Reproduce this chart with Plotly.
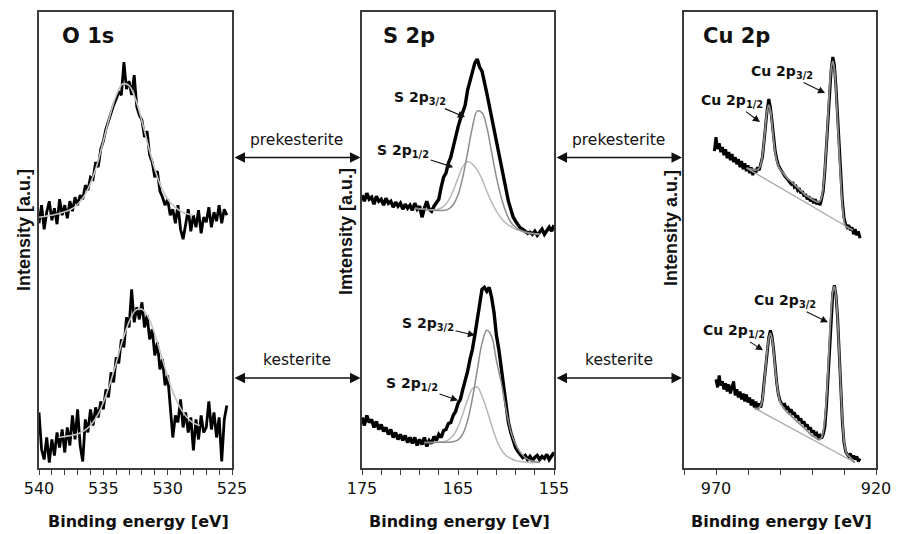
import numpy as np
import plotly.graph_objects as go

# ---------------- O 1s (binding energy grid start / step, intensities a.u.) ----------------
o1s_E0, o1s_dE = 540.0, 0.2
o1s_prekesterite = [244, 262, 238, 255, 266, 247, 259, 243, 268, 252,
                    262, 249, 266, 256, 270, 262, 272, 268, 282, 277,
                    290, 288, 305, 300, 318, 326, 338, 346, 355, 362,
                    368, 375, 372, 405, 378, 386, 372, 392, 360, 352,
                    347, 330, 336, 312, 305, 290, 296, 276, 270, 262,
                    268, 252, 258, 244, 262, 238, 228, 243, 258, 236,
                    252, 240, 257, 234, 250, 245, 260, 240, 255, 246,
                    262, 244, 258, 252]
o1s_kesterite = [55, 18, 8, 30, 5, 28, 12, 35, 20, 38,
                 15, 40, 22, 52, 28, 58, 22, 6, 48, 35,
                 58, 42, 60, 50, 66, 58, 78, 70, 95, 85,
                 110, 104, 128, 120, 150, 140, 178, 145, 160, 148,
                 165, 140, 152, 128, 138, 112, 125, 98, 108, 82,
                 92, 62, 30, 52, 45, 68, 40, 55, 35, 50,
                 17, 48, 28, 52, 35, 40, 66, 38, 55, 30,
                 50, 6, 48, 62]
o1s_fit_pre_E = [540, 539.5, 539, 538.5, 538, 537.5, 537, 536.5, 536, 535.5, 535, 534.5, 534,
                 533.5, 533, 532.5, 532, 531.5, 531, 530.5, 530, 529.5, 529, 528.5, 528]
o1s_fit_pre = [250, 251, 252, 253.5, 255.5, 258, 263, 271, 284, 302, 326, 351, 371.5,
               383, 381.5, 368, 346, 321, 298, 280, 268, 261, 256, 253.5, 252]
o1s_fit_kes_E = [538.5, 538, 537.5, 537, 536.5, 536, 535.5, 535, 534.5, 534, 533.5, 533,
                 532.5, 532, 531.5, 531, 530.5, 530, 529.5, 529, 528.5, 528, 527.5]
o1s_fit_kes = [30, 31, 32, 33.5, 36.7, 42, 51, 65, 83, 104.5, 127, 145.5,
               157, 158, 150, 133, 112, 91, 72.5, 59, 50, 44.5, 42]

# ---------------- S 2p ----------------
s2p_E0, s2p_dE = 175.0, 0.25
s2p_prekesterite = [272, 266, 274, 268, 270, 263, 271, 266, 268, 262,
                    269, 264, 266, 260, 265, 261, 264, 258, 263, 259,
                    262, 257, 264, 258, 261, 250, 259, 266, 258, 256,
                    261, 264, 268, 280, 290, 294, 304, 310, 320, 332,
                    340, 348, 356, 362, 377, 386, 396, 404, 408, 400,
                    396, 386, 374, 362, 350, 337, 326, 314, 300, 287,
                    276, 266, 258, 250, 246, 242, 239, 238, 236, 234,
                    235, 233, 236, 232, 235, 238, 233, 237, 240, 236,
                    242]
s2p_kesterite = [50, 42, 52, 45, 48, 40, 46, 38, 43, 36,
                 40, 33, 38, 30, 35, 28, 33, 27, 32, 25,
                 30, 24, 30, 22, 28, 23, 30, 21, 27, 24,
                 31, 27, 33, 30, 37, 38, 44, 45, 52, 56,
                 64, 68, 78, 86, 96, 108, 118, 132, 148, 165,
                 178, 180, 176, 180, 170, 155, 132, 118, 100, 82,
                 60, 45, 35, 27, 20, 16, 13, 10, 12, 8,
                 11, 7, 10, 12, 8, 11, 9, 13, 8, 12,
                 15]
s2p_fit_pre_E = [169.5, 169, 168.5, 168, 167.5, 167, 166.5, 166, 165.5, 165, 164.5, 164, 163.5,
                 163, 162.5, 162, 161.5, 161, 160.5, 160, 159.5, 159, 158.5, 158, 157.5, 157, 156.5]
s2p_pre_p32 = [259, 258.5, 258, 257.5, 257, 256.7, 256.8, 258.1, 262.5, 272.1, 290, 314.4, 339.8,
               356, 354.4, 340, 315, 290, 270, 255, 245, 240, 237, 235, 234, 233.5, 233]
s2p_pre_p12 = [259, 258.5, 258, 257.5, 257.5, 258.3, 260.8, 266.6, 276.4, 288.8, 300.5, 305.6, 303,
               297, 288, 276, 265, 256, 249, 244, 241, 238, 236.5, 235, 234, 233.5, 233]
s2p_fit_kes_E = [168.5, 168, 167.5, 167, 166.5, 166, 165.5, 165, 164.5, 164, 163.5, 163,
                 162.5, 162, 161.5, 161, 160.5, 160, 159.5, 159, 158.5, 158, 157.5, 157, 156.5]
s2p_kes_p32 = [25, 25, 25, 25.2, 25.3, 25.3, 25.7, 27.5, 33.5, 47, 69, 97,
               124, 137, 131, 107, 85, 58, 36, 23, 15, 10, 7, 6, 5]
s2p_kes_p12 = [25, 25, 25, 25.3, 25.8, 27.7, 32, 40.6, 53.4, 67.8, 78.7, 80.5,
               71.1, 58, 42, 28, 18, 12, 9, 7, 6, 5.5, 5, 5, 5]

# ---------------- Cu 2p ----------------
cu_pre_E0, cu_kes_E0, cu_dE = 970.5, 970.0, 0.5
cu_prekesterite = [316, 330, 318, 324, 315, 320, 312, 318, 309, 315,
                   307, 313, 305, 310, 303, 308, 300, 306, 298, 304,
                   296, 302, 294, 300, 292, 298, 295, 300, 297, 304,
                   310, 325, 343, 358, 368, 360, 346, 330, 316, 308,
                   302, 299, 296, 293, 291, 289, 287, 286, 283, 285,
                   280, 281, 277, 279, 274, 276, 271, 273, 268, 271,
                   266, 269, 264, 268, 263, 266, 262, 268, 276, 295,
                   320, 350, 378, 398, 410, 402, 380, 350, 318, 290,
                   266, 250, 243, 240, 242, 237, 240, 233, 238, 232,
                   236, 229]
cu_kesterite = [88, 80, 92, 82, 86, 78, 84, 76, 83, 74,
                80, 86, 72, 78, 70, 76, 68, 74, 66, 73,
                65, 70, 62, 68, 60, 66, 58, 64, 60, 68,
                84, 102, 120, 130, 137, 131, 118, 100, 84, 73,
                67, 64, 62, 63, 59, 60, 56, 58, 53, 55,
                50, 52, 47, 49, 44, 46, 41, 43, 38, 40,
                35, 37, 32, 34, 30, 32, 29, 33, 40, 60,
                90, 125, 155, 174, 182, 172, 150, 115, 78, 45,
                25, 16, 13, 11, 14, 9, 12, 8, 11, 6,
                9]
cu_fit_pre_E = [960.5, 959, 957.5, 956.5, 956, 955.5, 955, 954.5, 954, 953.5,
                953, 952.5, 952, 951.5, 951, 950.5, 950, 949, 948, 947,
                946, 945, 944, 943, 942, 941, 940, 939, 938, 937.5,
                937, 936.5, 936, 935.5, 935, 934.5, 934, 933.5, 933, 932.5,
                932, 931.5, 931, 930.5, 930, 929.5, 929, 928, 927.2]
cu_fit_pre = [299, 298, 297, 299, 303, 312, 326, 343, 357, 362,
              357, 343, 327, 314, 306, 301, 298, 294, 290, 287,
              284, 281, 278, 275, 272, 270, 268, 266, 265, 266,
              270, 280, 298, 323, 352, 380, 399, 406, 398, 376,
              346, 314, 286, 262, 247, 241, 240, 238.5, 237]
cu_base_pre_E = [960.4, 927.2]
cu_base_pre = [299, 237]
cu_fit_kes_E = [958, 957, 956, 955.5, 955, 954.5, 954, 953.5, 953, 952.5,
                952, 951.5, 951, 950.5, 950, 949, 948, 947, 946, 945,
                944, 943, 942, 941, 940, 939, 938, 937.5, 937, 936.5,
                936, 935.5, 935, 934.5, 934, 933.5, 933, 932.5, 932, 931.5,
                931, 930.5, 930, 929.5, 929, 928, 927, 926.6]
cu_fit_kes = [59, 59, 62, 68, 82, 100, 117, 129, 134, 129,
              116, 99, 84, 73, 66, 60, 56, 53, 50, 47,
              44, 41, 38, 35, 32, 30, 28, 28, 30, 36,
              48, 68, 97, 130, 158, 176, 181, 171, 148, 114,
              79, 48, 27, 17, 13, 10, 6, 5]
cu_base_kes_E = [957.8, 926.6]
cu_base_kes = [59, 5]

panel_titles = ["O 1s", "S 2p", "Cu 2p"]
y_titles = ["Intensity [a.u.]", "Imtensity [a.u.]", "Intensity a.u.]"]
x_title = "Binding energy [eV]"
pair_labels = ["prekesterite", "kesterite"]


def grid(e0, de, vals):
    return np.round(e0 - de * np.arange(len(vals)), 3)


FH = "DejaVu Sans"
FV = "Liberation Sans"
TXT = "#111111"
FRAME = "#3c3c3c"
W, H = 897, 534

fig = go.Figure()


def line(x, y, xa, ya, color, width, shape="linear"):
    fig.add_trace(go.Scatter(x=x, y=y, mode="lines", xaxis=xa, yaxis=ya, showlegend=False,
                             hoverinfo="skip",
                             line=dict(color=color, width=width, shape=shape)))


# O 1s
line(grid(o1s_E0, o1s_dE, o1s_prekesterite), o1s_prekesterite, "x", "y", "#000000", 2.8)
line(grid(o1s_E0, o1s_dE, o1s_kesterite), o1s_kesterite, "x", "y", "#000000", 2.8)
line(o1s_fit_pre_E, o1s_fit_pre, "x", "y", "#c4c4c4", 1.6, "spline")
line(o1s_fit_kes_E, o1s_fit_kes, "x", "y", "#c4c4c4", 1.6, "spline")
# S 2p
line(grid(s2p_E0, s2p_dE, s2p_prekesterite), s2p_prekesterite, "x2", "y2", "#000000", 3.4)
line(grid(s2p_E0, s2p_dE, s2p_kesterite), s2p_kesterite, "x2", "y2", "#000000", 3.4)
line(s2p_fit_pre_E, s2p_pre_p12, "x2", "y2", "#b8b8b8", 1.5, "spline")
line(s2p_fit_pre_E, s2p_pre_p32, "x2", "y2", "#8c8c8c", 1.5, "spline")
line(s2p_fit_kes_E, s2p_kes_p12, "x2", "y2", "#b8b8b8", 1.5, "spline")
line(s2p_fit_kes_E, s2p_kes_p32, "x2", "y2", "#8c8c8c", 1.5, "spline")
# Cu 2p
line(grid(cu_pre_E0, cu_dE, cu_prekesterite), cu_prekesterite, "x3", "y3", "#000000", 3.0)
line(grid(cu_kes_E0, cu_dE, cu_kesterite), cu_kesterite, "x3", "y3", "#000000", 3.0)
line(cu_base_pre_E, cu_base_pre, "x3", "y3", "#a8a8a8", 1.3)
line(cu_base_kes_E, cu_base_kes, "x3", "y3", "#a8a8a8", 1.3)
line(cu_fit_pre_E, cu_fit_pre, "x3", "y3", "#8a8a8a", 1.8, "spline")
line(cu_fit_kes_E, cu_fit_kes, "x3", "y3", "#8a8a8a", 1.8, "spline")

# panel frames (pixel edges of the three boxes)
xdom = [(39, 232), (362, 554), (684, 876)]
ytop, ybot = 12, 467.5
ydom = [1 - ybot / H, 1 - ytop / H]
xranges = [[540, 525], [175, 155], [980, 920]]
dticks = [(5, 525, 1), (10, 155, 2), (50, 920, 10)]

layout = dict(width=W, height=H, autosize=False, margin=dict(l=0, r=0, t=0, b=0, pad=0, autoexpand=False),
              paper_bgcolor="white", plot_bgcolor="white", showlegend=False)
for i in range(3):
    sx = "" if i == 0 else str(i + 1)
    dt, t0, mdt = dticks[i]
    layout["xaxis" + sx] = dict(
        domain=[xdom[i][0] / W, xdom[i][1] / W], range=xranges[i], anchor="y" + sx,
        automargin=False,
        showline=True, mirror=True, linecolor=FRAME, linewidth=1.5,
        ticks="outside", ticklen=6, tickwidth=1.3, tickcolor=FRAME,
        tick0=t0, dtick=dt, showgrid=False, zeroline=False,
        minor=dict(dtick=mdt, tick0=t0, ticks="outside", ticklen=6, tickwidth=1.3,
                   tickcolor=FRAME, showgrid=False),
        tickfont=dict(family=FH, size=16, color=TXT), fixedrange=True)
    layout["yaxis" + sx] = dict(
        domain=ydom, range=[0, 455], anchor="x" + sx, showline=True, mirror=True,
        automargin=False,
        linecolor=FRAME, linewidth=1.5, ticks="", showticklabels=False,
        showgrid=False, zeroline=False, fixedrange=True)

ann = []
# panel titles
for i, (px, t) in enumerate(zip([60, 381, 701], panel_titles)):
    ann.append(dict(text="<b>%s</b>" % t, x=px / W, y=1 - 35.5 / H, xref="paper", yref="paper",
                    xanchor="left", yanchor="middle", showarrow=False,
                    font=dict(family=FH, size=21, color=TXT)))
# x titles
for cx in [138, 460, 781]:
    ann.append(dict(text="<b>%s</b>" % x_title, x=cx / W, y=1 - 521.5 / H, xref="paper", yref="paper",
                    xanchor="center", yanchor="middle", showarrow=False,
                    font=dict(family=FH, size=16, color=TXT)))
# y titles
for (cx, cy), t in zip([(24, 230), (346, 232), (671, 228)], y_titles):
    ann.append(dict(text="<b>%s</b>" % t, x=cx / W, y=1 - cy / H, xref="paper", yref="paper",
                    xanchor="center", yanchor="middle", textangle=-90, showarrow=False,
                    font=dict(family=FV, size=18, color=TXT)))
# double arrows between panels with sample labels
for (xl, xr) in [(233, 360.5), (555, 682)]:
    for yy, lab, ly in [(157.5, pair_labels[0], 140), (378, pair_labels[1], 360)]:
        ann.append(dict(text="", x=xr / W, y=1 - yy / H, xref="paper", yref="paper",
                        ax=-(xr - xl), ay=0, axref="pixel", ayref="pixel", showarrow=True,
                        arrowhead=2, startarrowhead=2, arrowside="end+start",
                        arrowsize=1.5, arrowwidth=1.4, arrowcolor=TXT, standoff=0, startstandoff=0))
        ann.append(dict(text=lab, x=(xl + xr) / 2 / W, y=1 - ly / H, xref="paper", yref="paper",
                        xanchor="center", yanchor="middle", showarrow=False,
                        font=dict(family=FH, size=15.5, color=TXT)))
# peak labels
peak_labels = [
    ("S 2p", "3/2", "x2", "y2", 164.27, 350, -45, -19),
    ("S 2p", "1/2", "x2", "y2", 165.5, 300, -50, -16),
    ("S 2p", "3/2", "x2", "y2", 163.23, 132, -47, -11),
    ("S 2p", "1/2", "x2", "y2", 165.0, 67, -46, -16),
    ("Cu 2p", "3/2", "x3", "y3", 935.9, 374, -43, -21),
    ("Cu 2p", "1/2", "x3", "y3", 956.25, 345, -28, -21),
    ("Cu 2p", "3/2", "x3", "y3", 935.0, 145, -43, -21),
    ("Cu 2p", "1/2", "x3", "y3", 955.3, 117, -29, -19),
]
for base, sub, xr_, yr_, xx, yy, axp, ayp in peak_labels:
    ann.append(dict(text="<b>%s<sub>%s</sub></b>" % (base, sub), x=xx, y=yy, xref=xr_, yref=yr_,
                    ax=axp, ay=ayp, showarrow=True, arrowhead=2, arrowsize=1.3, arrowwidth=1.1,
                    arrowcolor=TXT, font=dict(family=FH, size=14, color=TXT)))

layout["annotations"] = ann
fig.update_layout(**layout)
fig.write_html("out.html")
